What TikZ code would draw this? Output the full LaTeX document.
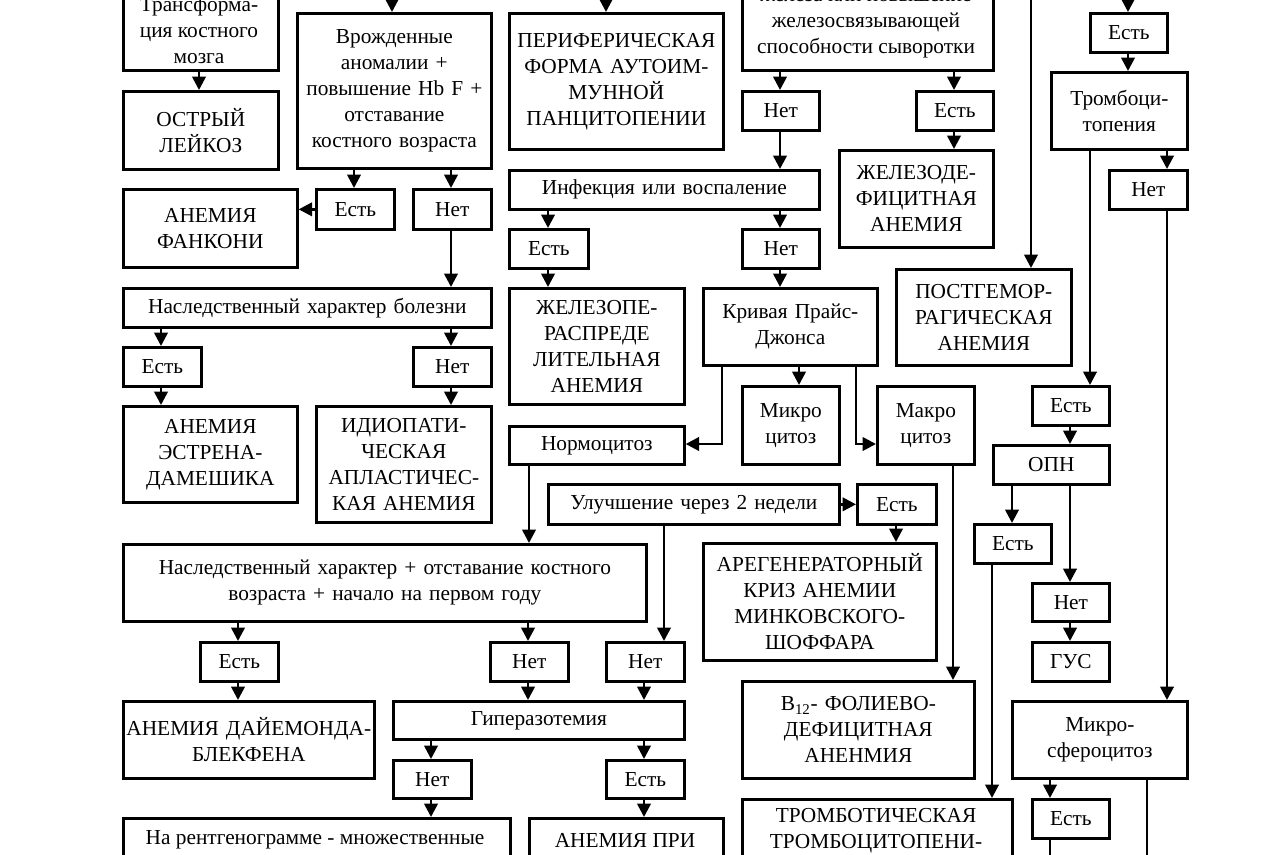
\documentclass[tikz,border=0pt]{standalone}
\usepackage{fontspec}
\setmainfont{Liberation Serif}
\usetikzlibrary{arrows.meta}
\begin{document}
\begin{tikzpicture}[x=0.75pt,y=-0.75pt,
  box/.style={draw,line width=2pt,inner sep=0pt,align=center,font=\fontsize{16}{19.5}\selectfont},
  txt/.style={inner sep=0pt,align=center,font=\fontsize{16}{19.5}\selectfont},
  arr/.style={line width=2pt,-{Triangle[length=10pt,width=10pt]}},
  ln/.style={line width=2pt}]
\useasboundingbox (0,0) rectangle (1280,854);
\fill[white] (0,0) rectangle (1280,854);
\clip (0,0) rectangle (1280,854);
\newcommand\bx[6]{\node[box,anchor=north west,minimum width={(#4-#2)*0.75pt},minimum height={(#5-#3)*0.75pt},text width={(#4-#2-2)*0.75pt}] (#1) at (#2,#3) {#6};}
% left column
\bx{tr}{122}{-40}{277}{69}{}
\node[txt] (trt) at (199,30) {Трансформа-\\ция костного\\мозга};
\bx{ol}{122}{90}{277}{168}{ОСТРЫЙ\\ЛЕЙКОЗ}
\bx{vr}{296}{12}{490}{167}{Врожденные\\аномалии +\\повышение Hb F +\\отставание\\костного возраста}
\bx{e1}{315}{188}{393}{228}{Есть}
\bx{n1}{412}{188}{490}{228}{Нет}
\bx{fa}{122}{188}{296}{266}{АНЕМИЯ\\ФАНКОНИ}
\bx{nh}{122}{287}{490}{326}{Наследственный характер болезни}
\bx{e2}{122}{346}{200}{385}{Есть}
\bx{n2}{412}{346}{490}{385}{Нет}
\bx{es}{122}{405}{296}{501}{АНЕМИЯ\\ЭСТРЕНА-\\ДАМЕШИКА}
\bx{id}{315}{405}{490}{521}{ИДИОПАТИ-\\ЧЕСКАЯ\\АПЛАСТИЧЕС-\\КАЯ АНЕМИЯ}
% middle
\bx{pf}{508}{12}{722}{148}{ПЕРИФЕРИЧЕСКАЯ\\ФОРМА АУТОИМ-\\МУННОЙ\\ПАНЦИТОПЕНИИ\\[-8pt]}
\bx{fe}{741}{-40}{992}{69}{}
\node[txt] (fet) at (866,25) {железа или повышение\\железосвязывающей\\способности сыворотки};
\bx{n3}{741}{90}{818}{129}{Нет}
\bx{e3}{915}{90}{992}{129}{Есть}
\bx{zd}{838}{149}{992}{246}{ЖЕЛЕЗОДЕ-\\ФИЦИТНАЯ\\АНЕМИЯ}
\bx{inf}{508}{169}{818}{208}{Инфекция или воспаление}
\bx{e4}{508}{228}{587}{267}{Есть}
\bx{n4}{741}{228}{818}{267}{Нет}
\bx{zp}{508}{287}{683}{403}{ЖЕЛЕЗОПЕ-\\РАСПРЕДЕ\\ЛИТЕЛЬНАЯ\\АНЕМИЯ}
\bx{kp}{702}{287}{876}{364}{Кривая Прайс-\\Джонса\\[-6pt]}
\bx{mi}{741}{385}{838}{463}{Микро\\цитоз\\[-6pt]}
\bx{ma}{876}{385}{973}{463}{Макро\\цитоз\\[-6pt]}
\bx{no}{508}{425}{683}{463}{Нормоцитоз}
\bx{ul}{547}{483}{838}{523}{Улучшение через 2 недели}
\bx{e5}{856}{483}{935}{523}{Есть}
\bx{ar}{702}{542}{935}{659}{АРЕГЕНЕРАТОРНЫЙ\\КРИЗ АНЕМИИ\\МИНКОВСКОГО-\\ШОФФАРА}
\bx{b12}{741}{680}{973}{777}{B\textsubscript{12}- ФОЛИЕВО-\\ДЕФИЦИТНАЯ\\АНЕНМИЯ}
\bx{tt}{741}{798}{1011}{900}{}
\node[txt] (ttt) at (876,831) {ТРОМБОТИЧЕСКАЯ\\ТРОМБОЦИТОПЕНИ-};
% right
\bx{pg}{895}{268}{1070}{364}{ПОСТГЕМОР-\\РАГИЧЕСКАЯ\\АНЕМИЯ}
\bx{e6}{1089}{12}{1166}{51}{Есть}
\bx{tc}{1050}{71}{1186}{148}{Тромбоци-\\топения\\[-6pt]}
\bx{n6}{1108}{169}{1186}{208}{Нет}
\bx{e7}{1031}{385}{1108}{424}{Есть}
\bx{op}{992}{444}{1108}{483}{ОПН}
\bx{e8}{973}{523}{1050}{562}{Есть}
\bx{n8}{1031}{582}{1108}{620}{Нет}
\bx{gus}{1031}{641}{1108}{680}{ГУС}
\bx{ms}{1011}{700}{1186}{777}{Микро-\\сфероцитоз}
\bx{e9}{1031}{798}{1108}{837}{Есть}
% bottom left
\bx{nk}{122}{543}{645}{620}{Наследственный характер + отставание костного\\возраста + начало на первом году\\[-6pt]}
\bx{e10}{199}{641}{277}{680}{Есть}
\bx{n10}{489}{641}{567}{680}{Нет}
\bx{n11}{605}{641}{683}{680}{Нет}
\bx{dm}{122}{700}{373}{777}{АНЕМИЯ ДАЙЕМОНДА-\\БЛЕКФЕНА\\[-6pt]}
\bx{gz}{392}{700}{683}{738}{Гиперазотемия}
\bx{n12}{392}{759}{470}{797}{Нет}
\bx{e12}{605}{759}{683}{797}{Есть}
\bx{rg}{122}{817}{509}{900}{}
\node[txt] (rgt) at (315,840) {На рентгенограмме - множественные};
\bx{ap}{528}{817}{722}{900}{}
\node[txt] (apt) at (625,840) {АНЕМИЯ ПРИ};
% free ends
\coordinate (t1) at (392,-5);
\coordinate (t2) at (606,-5);
\coordinate (t3) at (1128,-5);
\coordinate (t4) at (1031,-5);
\coordinate (b1) at (1050,860);
\coordinate (b2) at (1147,860);
% connectors
\draw[arr] (t1) -- (vr.north -| t1);
\draw[arr] (t2) -- (pf.north -| t2);
\draw[arr] (t3) -- (e6.north -| t3);
\draw[arr] (t4) -- (pg.north -| t4);
\draw[arr] (tr.south -| 199,0) -- (ol.north -| 199,0);
\draw[arr] (vr.south -| 354,0) -- (e1.north -| 354,0);
\draw[arr] (vr.south -| 451,0) -- (n1.north -| 451,0);
\draw[arr] (e1.west) -- (fa.east |- e1.west);
\draw[arr] (n1.south -| 451,0) -- (nh.north -| 451,0);
\draw[arr] (nh.south -| 161,0) -- (e2.north -| 161,0);
\draw[arr] (nh.south -| 451,0) -- (n2.north -| 451,0);
\draw[arr] (e2.south -| 161,0) -- (es.north -| 161,0);
\draw[arr] (n2.south -| 451,0) -- (id.north -| 451,0);
\draw[arr] (fe.south -| 780,0) -- (n3.north -| 780,0);
\draw[arr] (fe.south -| 954,0) -- (e3.north -| 954,0);
\draw[arr] (n3.south -| 780,0) -- (inf.north -| 780,0);
\draw[arr] (e3.south -| 954,0) -- (zd.north -| 954,0);
\draw[arr] (inf.south -| 548,0) -- (e4.north -| 548,0);
\draw[arr] (inf.south -| 780,0) -- (n4.north -| 780,0);
\draw[arr] (e4.south -| 548,0) -- (zp.north -| 548,0);
\draw[arr] (n4.south -| 780,0) -- (kp.north -| 780,0);
\draw[arr] (kp.south -| 799,0) -- (mi.north -| 799,0);
\draw[arr] (kp.south -| 722,0) -- (722,444) -- (no.east |- 0,444);
\draw[arr] (kp.south -| 856,0) -- (856,444) -- (ma.west |- 0,444);
\draw[arr] (no.south -| 529,0) -- (nk.north -| 529,0);
\draw[arr] (ul.east) -- (e5.west);
\draw[arr] (e5.south -| 896,0) -- (ar.north -| 896,0);
\draw[arr] (ul.south -| 664,0) -- (n11.north -| 664,0);
\draw[arr] (ma.south -| 953,0) -- (b12.north -| 953,0);
\draw[arr] (nk.south -| 238,0) -- (e10.north -| 238,0);
\draw[arr] (nk.south -| 528,0) -- (n10.north -| 528,0);
\draw[arr] (e10.south -| 238,0) -- (dm.north -| 238,0);
\draw[arr] (n10.south -| 528,0) -- (gz.north -| 528,0);
\draw[arr] (n11.south -| 644,0) -- (gz.north -| 644,0);
\draw[arr] (gz.south -| 431,0) -- (n12.north -| 431,0);
\draw[arr] (gz.south -| 644,0) -- (e12.north -| 644,0);
\draw[arr] (n12.south -| 431,0) -- (rg.north -| 431,0);
\draw[arr] (e12.south -| 644,0) -- (ap.north -| 644,0);
\draw[arr] (e6.south -| 1128,0) -- (tc.north -| 1128,0);
\draw[arr] (tc.south -| 1090,0) -- (e7.north -| 1090,0);
\draw[arr] (tc.south -| 1167,0) -- (n6.north -| 1167,0);
\draw[arr] (n6.south -| 1167,0) -- (ms.north -| 1167,0);
\draw[arr] (e7.south -| 1070,0) -- (op.north -| 1070,0);
\draw[arr] (op.south -| 1012,0) -- (e8.north -| 1012,0);
\draw[arr] (op.south -| 1070,0) -- (n8.north -| 1070,0);
\draw[arr] (n8.south -| 1070,0) -- (gus.north -| 1070,0);
\draw[arr] (e8.south -| 992,0) -- (tt.north -| 992,0);
\draw[arr] (ms.south -| 1050,0) -- (e9.north -| 1050,0);
\draw[ln] (e9.south -| b1) -- (b1);
\draw[ln] (ms.south -| b2) -- (b2);
\end{tikzpicture}
\end{document}
